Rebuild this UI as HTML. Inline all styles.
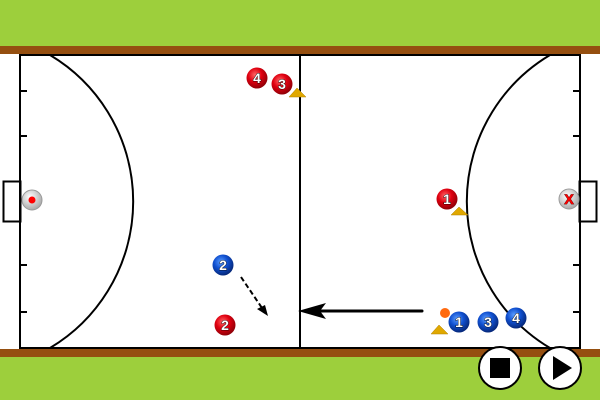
<!DOCTYPE html>
<html><head><style>
html,body{margin:0;padding:0;width:600px;height:400px;overflow:hidden;background:#9dcf3c}
svg{display:block}
text{font-family:"Liberation Sans",sans-serif;font-weight:bold;font-size:14px;fill:#fff;stroke:#000;stroke-width:0.8;paint-order:stroke}
</style></head><body>
<svg width="600" height="400" viewBox="0 0 600 400">
<defs>
<radialGradient id="r" cx="0.4" cy="0.35" r="0.65"><stop offset="0" stop-color="#ff6666"/><stop offset="0.5" stop-color="#e00010"/><stop offset="1" stop-color="#900008"/></radialGradient>
<radialGradient id="b" cx="0.4" cy="0.35" r="0.65"><stop offset="0" stop-color="#5a9cff"/><stop offset="0.5" stop-color="#1050d0"/><stop offset="1" stop-color="#06287a"/></radialGradient>
<radialGradient id="g" cx="0.4" cy="0.35" r="0.65"><stop offset="0" stop-color="#ffffff"/><stop offset="1" stop-color="#aaaaaa"/></radialGradient>
</defs>
<rect x="0" y="0" width="600" height="400" fill="#9dcf3c"/>
<rect x="0" y="46" width="600" height="9" fill="#954f10"/>
<rect x="0" y="348" width="600" height="9" fill="#954f10"/>
<rect x="0" y="54" width="600" height="295" fill="#fff"/>
<g fill="none" stroke="#000" stroke-width="2">
<rect x="20" y="55" width="560" height="293"/>
<line x1="300" y1="55" x2="300" y2="348"/>
<path d="M50 55 A170.6 170.6 0 0 1 50 348"/>
<path d="M550 55 A170.6 170.6 0 0 0 550 348"/>
<rect x="3.5" y="181.5" width="17" height="40"/>
<rect x="579.5" y="181.5" width="17" height="40"/>
<path d="M20 91h7M20 136h7M20 265h7M20 312h7M580 91h-7M580 136h-7M580 265h-7M580 312h-7"/>
</g>
<line x1="422" y1="311" x2="318" y2="311" stroke="#000" stroke-width="3" stroke-linecap="round"/>
<polygon points="298,311 326,303 320,311 326,319" fill="#000"/>
<line x1="241" y1="277" x2="262" y2="308" stroke="#000" stroke-width="2" stroke-dasharray="5,3"/>
<polygon points="268,316 257,309 265,305" fill="#000"/>
<g fill="#e0a800" stroke="#b08000" stroke-width="0.5">
<polygon points="289,97 297,88 306,97"/>
<polygon points="451,215 459,207 468,215"/>
<polygon points="431,334 439,325 448,334"/>
</g>
<circle cx="445" cy="313" r="5" fill="#ff6a10"/>
<circle cx="32" cy="200" r="10" fill="url(#g)" stroke="#999" stroke-width="1"/>
<circle cx="32" cy="200" r="3.5" fill="#f00"/>
<circle cx="569" cy="199" r="10" fill="url(#g)" stroke="#999" stroke-width="1"/>
<text x="569" y="204" text-anchor="middle" style="fill:#f00;stroke:#600;font-size:14px">X</text>
<g>
<circle cx="257" cy="78" r="10.5" fill="url(#r)"/><text x="257" y="83" text-anchor="middle">4</text>
<circle cx="282" cy="84" r="10.5" fill="url(#r)"/><text x="282" y="89" text-anchor="middle">3</text>
<circle cx="447" cy="199" r="10.5" fill="url(#r)"/><text x="447" y="204" text-anchor="middle">1</text>
<circle cx="225" cy="325" r="10.5" fill="url(#r)"/><text x="225" y="330" text-anchor="middle">2</text>
<circle cx="223" cy="265" r="10.5" fill="url(#b)"/><text x="223" y="270" text-anchor="middle">2</text>
<circle cx="459" cy="322" r="10.5" fill="url(#b)"/><text x="459" y="327" text-anchor="middle">1</text>
<circle cx="488" cy="322" r="10.5" fill="url(#b)"/><text x="488" y="327" text-anchor="middle">3</text>
<circle cx="516" cy="318" r="10.5" fill="url(#b)"/><text x="516" y="323" text-anchor="middle">4</text>
</g>
<circle cx="500" cy="368" r="21" fill="#fff" stroke="#000" stroke-width="2"/>
<rect x="490" y="358" width="20" height="20" fill="#000"/>
<circle cx="560" cy="368" r="21" fill="#fff" stroke="#000" stroke-width="2"/>
<polygon points="553,356 572,368 553,380" fill="#000"/>
</svg>
</body></html>
